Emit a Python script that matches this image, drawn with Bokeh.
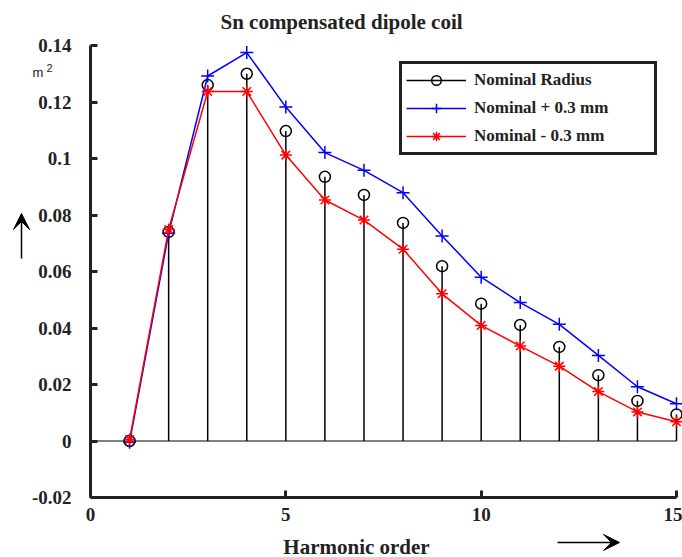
from bokeh.plotting import figure
from bokeh.models import (Range1d, FixedTicker, CustomJSTickFormatter, Label, LinearAxis,
                          Arrow, VeeHead, Legend, LegendItem)
from bokeh.embed import file_html
from bokeh.resources import INLINE

# ---- data ----
harmonic = [1, 2, 3, 4, 5, 6, 7, 8, 9, 10, 11, 12, 13, 14, 15]
nominal = [0.0, 0.0740, 0.1260, 0.1300, 0.1097, 0.0935, 0.0871, 0.0772, 0.0619,
           0.0486, 0.0411, 0.0333, 0.0233, 0.0142, 0.0094]
plus_03 = [-0.0004, 0.0735, 0.1292, 0.1375, 0.1182, 0.1021, 0.0958, 0.0879, 0.0726,
           0.0580, 0.0490, 0.0413, 0.0303, 0.0192, 0.0132]
minus_03 = [0.0005, 0.0749, 0.1237, 0.1237, 0.1012, 0.0853, 0.0782, 0.0679, 0.0521,
            0.0409, 0.0336, 0.0265, 0.0175, 0.0103, 0.0068]
x_ticks = [0, 5, 10, 15]
y_ticks = [-0.02, 0, 0.02, 0.04, 0.06, 0.08, 0.1, 0.12, 0.14]
series_labels = ["Nominal Radius", "Nominal + 0.3 mm", "Nominal - 0.3 mm"]
title_text = "Sn compensated dipole coil"
x_label = "Harmonic order"
unit_text = "m"
unit_power = "2"

SERIF = "Liberation Serif"
DARK = "#222222"

# ---- layout: the axes box sits inside a frame that covers the whole canvas ----
W, H = 682, 557
BOX_L, BOX_R, BOX_T, BOX_B = 90, 676, 45, 497
x0, x1 = x_ticks[0], x_ticks[-1]
y0, y1 = y_ticks[0], y_ticks[-1]
kx = (x1 - x0) / (BOX_R - BOX_L)
ky = (y1 - y0) / (BOX_B - BOX_T)
x_range = Range1d(x0 - BOX_L * kx, x1 + (W - BOX_R) * kx)
y_range = Range1d(y0 - (H - BOX_B) * ky, y1 + BOX_T * ky)


def cx(px):
    return x0 + (px - BOX_L) * kx


def cy(py):
    return y0 + (BOX_B - py) * ky


p = figure(width=W, height=H, output_backend="svg", toolbar_location=None,
           x_range=x_range, y_range=y_range, x_axis_type=None, y_axis_type=None,
           min_border=0)
p.outline_line_color = None
p.background_fill_color = "white"
p.border_fill_color = "white"
p.xgrid.visible = False
p.ygrid.visible = False

xaxis = LinearAxis(fixed_location=y0, bounds=(x0, x1), ticker=FixedTicker(ticks=x_ticks))
yaxis = LinearAxis(fixed_location=x0, bounds=(y0, y1), ticker=FixedTicker(ticks=y_ticks),
                   formatter=CustomJSTickFormatter(code="return String(Math.round(tick*100)/100);"))
for ax in (xaxis, yaxis):
    ax.axis_line_width = 3
    ax.axis_line_color = DARK
    ax.major_tick_line_width = 3
    ax.major_tick_line_color = DARK
    ax.major_tick_in = 7
    ax.major_tick_out = 0
    ax.minor_tick_line_color = None
    ax.major_label_text_font = SERIF
    ax.major_label_text_font_style = "bold"
    ax.major_label_text_font_size = "19px"
    ax.major_label_text_color = DARK
xaxis.major_label_standoff = 10
yaxis.major_label_standoff = 19
p.add_layout(xaxis, "below")
p.add_layout(yaxis, "left")

# zero line across the axes box
p.segment(x0=[x0], y0=[0], x1=[x1], y1=[0], line_color="black", line_width=1)

# stems + circles (nominal)
zeros = [0] * len(harmonic)
stems = p.segment(x0=harmonic, y0=zeros, x1=harmonic, y1=nominal,
                  line_color="black", line_width=1.5)
circles = p.scatter(harmonic, nominal, marker="circle", size=11, fill_color=None,
                    line_color="black", line_width=1.5)

# +0.3 mm
bl = p.line(harmonic, plus_03, line_color="#0000ff", line_width=1.5)
bm = p.scatter(harmonic, plus_03, marker="cross", size=13, line_color="#0000ff",
               line_width=1.5)

# -0.3 mm
rl = p.line(harmonic, minus_03, line_color="#ff0000", line_width=1.5)
rm = p.scatter(harmonic, minus_03, marker="asterisk", size=12, line_color="#ff0000",
               line_width=1.5)

legend = Legend(items=[
    LegendItem(label=series_labels[0], renderers=[stems, circles]),
    LegendItem(label=series_labels[1], renderers=[bl, bm]),
    LegendItem(label=series_labels[2], renderers=[rl, rm]),
], location=(399, H - 155))
legend.border_line_width = 3
legend.border_line_color = DARK
legend.border_line_alpha = 1
legend.background_fill_alpha = 1
legend.padding = 4
legend.margin = 0
legend.spacing = 4
legend.glyph_width = 60
legend.glyph_height = 24
legend.label_height = 24
legend.label_width = 176
legend.label_standoff = 8
legend.label_text_font = SERIF
legend.label_text_font_style = "bold"
legend.label_text_font_size = "17px"
legend.label_text_color = DARK
p.add_layout(legend)

# title and axis texts
p.add_layout(Label(x=cx(341), y=cy(21), text=title_text,
                   text_align="center", text_baseline="middle", text_font=SERIF,
                   text_font_style="bold", text_font_size="21px", text_color=DARK))
p.add_layout(Label(x=cx(356), y=cy(546), text=x_label,
                   text_align="center", text_baseline="middle", text_font=SERIF,
                   text_font_style="bold", text_font_size="21px", text_color=DARK))
p.add_layout(Label(x=cx(32), y=cy(72), text=unit_text,
                   text_align="left", text_baseline="middle", text_font="Liberation Sans",
                   text_font_size="13px", text_color=DARK))
p.add_layout(Label(x=cx(46), y=cy(67), text=unit_power,
                   text_align="left", text_baseline="middle", text_font="Liberation Sans",
                   text_font_size="11px", text_color=DARK))

# direction arrows
p.add_layout(Arrow(x_start=cx(21), y_start=cy(258), x_end=cx(21), y_end=cy(213),
                   line_color="black", line_width=1.5,
                   end=VeeHead(size=16, fill_color="black", line_color="black",
                               line_width=1)))
p.add_layout(Arrow(x_start=cx(557), y_start=cy(542), x_end=cx(619), y_end=cy(542),
                   line_color="black", line_width=1.5,
                   end=VeeHead(size=16, fill_color="black", line_color="black",
                               line_width=1)))

open("out.html", "w").write(file_html(p, INLINE))
